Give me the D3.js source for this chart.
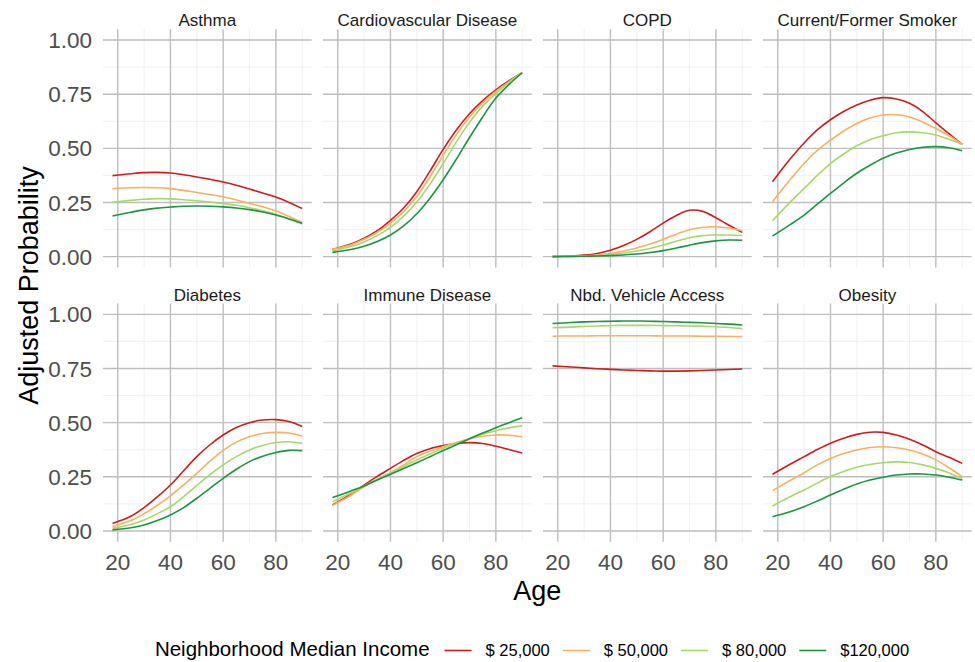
<!DOCTYPE html>
<html>
<head>
<meta charset="utf-8">
<script src="https://cdn.jsdelivr.net/npm/d3@7"></script>
<style>
  html, body { margin: 0; padding: 0; background: #ffffff; }
  svg { display: block; font-family: "Liberation Sans", Arial, Helvetica, sans-serif; }
</style>
</head>
<body>
<svg id="chart" width="975" height="662"></svg>
<script>
// Ages at which each fitted curve is sampled
const ages = [18, 25, 30, 35, 40, 45, 50, 55, 60, 65, 70, 75, 80, 85, 90];

// Income levels (legend order) and their colours
const incomeLabels = ["$ 25,000", "$ 50,000", "$ 80,000", "$120,000"];
const incomeColors = ["#D7191C", "#FDAE61", "#A6D96A", "#1A9641"];

// Facet titles, in layout order
const panelTitles = ["Asthma", "Cardiovascular Disease", "COPD", "Current/Former Smoker",
                     "Diabetes", "Immune Disease", "Nbd. Vehicle Access", "Obesity"];

// Adjusted probability per income level (rows follow incomeLabels)
const asthma = [
  [0.374, 0.383, 0.388, 0.389, 0.386, 0.378, 0.368, 0.357, 0.345, 0.330, 0.312, 0.294, 0.275, 0.250, 0.222],
  [0.314, 0.318, 0.319, 0.318, 0.314, 0.306, 0.296, 0.287, 0.277, 0.262, 0.246, 0.230, 0.212, 0.185, 0.158],
  [0.251, 0.260, 0.265, 0.268, 0.267, 0.263, 0.258, 0.252, 0.245, 0.237, 0.226, 0.212, 0.196, 0.175, 0.151],
  [0.188, 0.205, 0.216, 0.224, 0.229, 0.233, 0.234, 0.233, 0.230, 0.225, 0.217, 0.206, 0.192, 0.174, 0.154]
];
const cardiovascular = [
  [0.033, 0.058, 0.085, 0.120, 0.168, 0.225, 0.300, 0.395, 0.495, 0.585, 0.660, 0.720, 0.770, 0.812, 0.849],
  [0.034, 0.055, 0.080, 0.112, 0.155, 0.208, 0.278, 0.368, 0.468, 0.563, 0.645, 0.710, 0.763, 0.808, 0.849],
  [0.028, 0.047, 0.068, 0.097, 0.135, 0.187, 0.252, 0.335, 0.430, 0.530, 0.620, 0.695, 0.753, 0.805, 0.849],
  [0.020, 0.033, 0.048, 0.070, 0.100, 0.142, 0.198, 0.270, 0.355, 0.450, 0.550, 0.645, 0.732, 0.795, 0.849]
];
const copd = [
  [0.001, 0.003, 0.007, 0.015, 0.030, 0.052, 0.080, 0.115, 0.155, 0.190, 0.214, 0.209, 0.180, 0.145, 0.112],
  [0.001, 0.002, 0.004, 0.008, 0.015, 0.026, 0.040, 0.058, 0.080, 0.104, 0.124, 0.136, 0.138, 0.132, 0.120],
  [0.0005, 0.001, 0.003, 0.005, 0.010, 0.017, 0.026, 0.038, 0.054, 0.071, 0.087, 0.097, 0.100, 0.100, 0.098],
  [0.0003, 0.001, 0.002, 0.003, 0.005, 0.008, 0.012, 0.019, 0.028, 0.040, 0.053, 0.065, 0.073, 0.077, 0.076]
];
const smoker = [
  [0.346, 0.455, 0.525, 0.585, 0.632, 0.670, 0.700, 0.722, 0.734, 0.728, 0.708, 0.670, 0.618, 0.568, 0.518],
  [0.254, 0.360, 0.430, 0.490, 0.538, 0.580, 0.615, 0.640, 0.654, 0.655, 0.645, 0.622, 0.592, 0.558, 0.518],
  [0.166, 0.255, 0.315, 0.375, 0.430, 0.474, 0.512, 0.540, 0.558, 0.572, 0.576, 0.572, 0.562, 0.542, 0.518],
  [0.095, 0.150, 0.192, 0.242, 0.292, 0.340, 0.385, 0.422, 0.454, 0.478, 0.495, 0.505, 0.508, 0.503, 0.489]
];
const diabetes = [
  [0.035, 0.068, 0.108, 0.157, 0.212, 0.278, 0.343, 0.398, 0.443, 0.478, 0.500, 0.512, 0.514, 0.505, 0.482],
  [0.020, 0.048, 0.080, 0.118, 0.162, 0.213, 0.266, 0.322, 0.372, 0.410, 0.435, 0.450, 0.455, 0.452, 0.438],
  [0.012, 0.030, 0.051, 0.080, 0.112, 0.158, 0.210, 0.260, 0.305, 0.343, 0.374, 0.395, 0.408, 0.412, 0.405],
  [0.005, 0.015, 0.028, 0.048, 0.074, 0.108, 0.151, 0.197, 0.243, 0.285, 0.320, 0.345, 0.362, 0.372, 0.371]
];
const immune = [
  [0.120, 0.170, 0.212, 0.252, 0.289, 0.326, 0.358, 0.380, 0.394, 0.404, 0.408, 0.404, 0.391, 0.376, 0.360],
  [0.118, 0.165, 0.205, 0.238, 0.269, 0.305, 0.343, 0.368, 0.389, 0.408, 0.425, 0.437, 0.443, 0.442, 0.435],
  [0.135, 0.175, 0.208, 0.238, 0.266, 0.297, 0.328, 0.355, 0.382, 0.405, 0.426, 0.446, 0.463, 0.476, 0.485],
  [0.155, 0.185, 0.208, 0.235, 0.262, 0.288, 0.315, 0.343, 0.371, 0.398, 0.426, 0.452, 0.477, 0.500, 0.523]
];
const vehicle = [
  [0.762, 0.757, 0.753, 0.749, 0.746, 0.743, 0.741, 0.739, 0.738, 0.738, 0.739, 0.741, 0.743, 0.745, 0.748],
  [0.899, 0.900, 0.900, 0.901, 0.901, 0.901, 0.901, 0.901, 0.900, 0.900, 0.900, 0.899, 0.899, 0.898, 0.897],
  [0.938, 0.941, 0.944, 0.946, 0.948, 0.949, 0.949, 0.949, 0.948, 0.947, 0.946, 0.945, 0.943, 0.939, 0.934],
  [0.958, 0.962, 0.965, 0.967, 0.968, 0.969, 0.969, 0.968, 0.967, 0.965, 0.963, 0.961, 0.958, 0.955, 0.951]
];
const obesity = [
  [0.262, 0.310, 0.343, 0.376, 0.405, 0.428, 0.446, 0.456, 0.455, 0.443, 0.423, 0.397, 0.366, 0.340, 0.312],
  [0.186, 0.235, 0.269, 0.305, 0.335, 0.358, 0.374, 0.385, 0.389, 0.384, 0.374, 0.355, 0.328, 0.292, 0.251],
  [0.115, 0.160, 0.189, 0.221, 0.251, 0.275, 0.294, 0.307, 0.315, 0.319, 0.316, 0.305, 0.289, 0.268, 0.243],
  [0.066, 0.090, 0.112, 0.138, 0.166, 0.193, 0.217, 0.235, 0.248, 0.258, 0.263, 0.263, 0.258, 0.248, 0.235]
];

// Axis breaks
const xBreaks = [20, 40, 60, 80];
const xMinor = [30, 50, 70, 90];
const yBreaks = [0, 0.25, 0.5, 0.75, 1];
const yMinor = [0.125, 0.375, 0.625, 0.875];
const yTickLabels = ["0.00", "0.25", "0.50", "0.75", "1.00"];

const panelData = [asthma, cardiovascular, copd, smoker, diabetes, immune, vehicle, obesity];

// ---- layout ----
const svg = d3.select("#chart");
const nCols = 4;
const left0 = 103, panelW = 208.7, colGap = 11.3;
const rowTops = [29.2, 303.5], panelH = 238.3;

// ggplot-style 5% expansion around the data range
const xDom = d3.extent(ages);
const xPad = (xDom[1] - xDom[0]) * 0.05;
const yPad = 0.05;

const line = (xs, ys) => d3.line()
  .x((d, i) => xs(ages[i]))
  .y(d => ys(d))
  .curve(d3.curveCatmullRom.alpha(0.5));

panelData.forEach((series, p) => {
  const col = p % nCols, row = Math.floor(p / nCols);
  const x0 = left0 + col * (panelW + colGap);
  const y0 = rowTops[row];

  const xs = d3.scaleLinear().domain([xDom[0] - xPad, xDom[1] + xPad]).range([x0, x0 + panelW]);
  const ys = d3.scaleLinear().domain([0 - yPad, 1 + yPad]).range([y0 + panelH, y0]);

  const g = svg.append("g");

  // minor grid
  g.selectAll(".vminor").data(xMinor).join("line")
    .attr("x1", d => xs(d)).attr("x2", d => xs(d))
    .attr("y1", y0).attr("y2", y0 + panelH)
    .attr("stroke", "#EEEEEE").attr("stroke-width", 0.8);
  g.selectAll(".hminor").data(yMinor).join("line")
    .attr("x1", x0).attr("x2", x0 + panelW)
    .attr("y1", d => ys(d)).attr("y2", d => ys(d))
    .attr("stroke", "#EEEEEE").attr("stroke-width", 0.8);

  // major grid
  g.selectAll(".vmajor").data(xBreaks).join("line")
    .attr("x1", d => xs(d)).attr("x2", d => xs(d))
    .attr("y1", y0).attr("y2", y0 + panelH)
    .attr("stroke", "#BEBEBE").attr("stroke-width", 1.4);
  g.selectAll(".hmajor").data(yBreaks).join("line")
    .attr("x1", x0).attr("x2", x0 + panelW)
    .attr("y1", d => ys(d)).attr("y2", d => ys(d))
    .attr("stroke", "#BEBEBE").attr("stroke-width", 1.4);

  // curves
  g.selectAll(".curve").data(series).join("path")
    .attr("d", d => line(xs, ys)(d))
    .attr("fill", "none")
    .attr("stroke", (d, i) => incomeColors[i])
    .attr("stroke-width", 1.6);

  // strip title
  g.append("text")
    .attr("x", x0 + panelW / 2).attr("y", y0 - 3)
    .attr("text-anchor", "middle")
    .attr("font-size", 17).attr("fill", "#1A1A1A")
    .text(panelTitles[p]);

  // y tick labels on first column
  if (col === 0) {
    g.selectAll(".ylab").data(yBreaks).join("text")
      .attr("x", 92).attr("y", d => ys(d))
      .attr("dy", "0.36em")
      .attr("text-anchor", "end")
      .attr("font-size", 22.5).attr("fill", "#4D4D4D")
      .text((d, i) => yTickLabels[i]);
  }
  // x tick labels on bottom row
  if (row === 1) {
    g.selectAll(".xlab").data(xBreaks).join("text")
      .attr("x", d => xs(d)).attr("y", y0 + panelH + 20)
      .attr("dy", "0.36em")
      .attr("text-anchor", "middle")
      .attr("font-size", 22.5).attr("fill", "#4D4D4D")
      .text(d => d);
  }
});

// axis titles
const plotRight = left0 + nCols * panelW + (nCols - 1) * colGap;
svg.append("text")
  .attr("x", (left0 + plotRight) / 2).attr("y", 590)
  .attr("dy", "0.36em")
  .attr("text-anchor", "middle")
  .attr("font-size", 27).attr("fill", "#000")
  .text("Age");

svg.append("text")
  .attr("transform", `translate(28,${(rowTops[0] + rowTops[1] + panelH) / 2}) rotate(-90)`)
  .attr("dy", "0.36em")
  .attr("text-anchor", "middle")
  .attr("font-size", 27).attr("fill", "#000")
  .text("Adjusted Probability");

// legend laid out left to right, centred under the panels
const legendBaseline = 656;
const keyY = 650.5;
const keyLen = 27;
const legend = svg.append("g");
let cx = 0;
const title = legend.append("text")
  .attr("x", cx).attr("y", legendBaseline)
  .attr("font-size", 20.5).attr("fill", "#000")
  .text("Neighborhood Median Income");
cx += title.node().getComputedTextLength() + 15;
incomeLabels.forEach((lab, i) => {
  legend.append("line")
    .attr("x1", cx).attr("x2", cx + keyLen)
    .attr("y1", keyY).attr("y2", keyY)
    .attr("stroke", incomeColors[i]).attr("stroke-width", 1.6);
  cx += keyLen + 14;
  const t = legend.append("text")
    .attr("x", cx).attr("y", legendBaseline)
    .attr("font-size", 16.5).attr("fill", "#000")
    .text(lab);
  cx += t.node().getComputedTextLength() + (i < incomeLabels.length - 1 ? 13 : 0);
});
legend.attr("transform", `translate(${532 - cx / 2},0)`);
</script>
</body>
</html>
